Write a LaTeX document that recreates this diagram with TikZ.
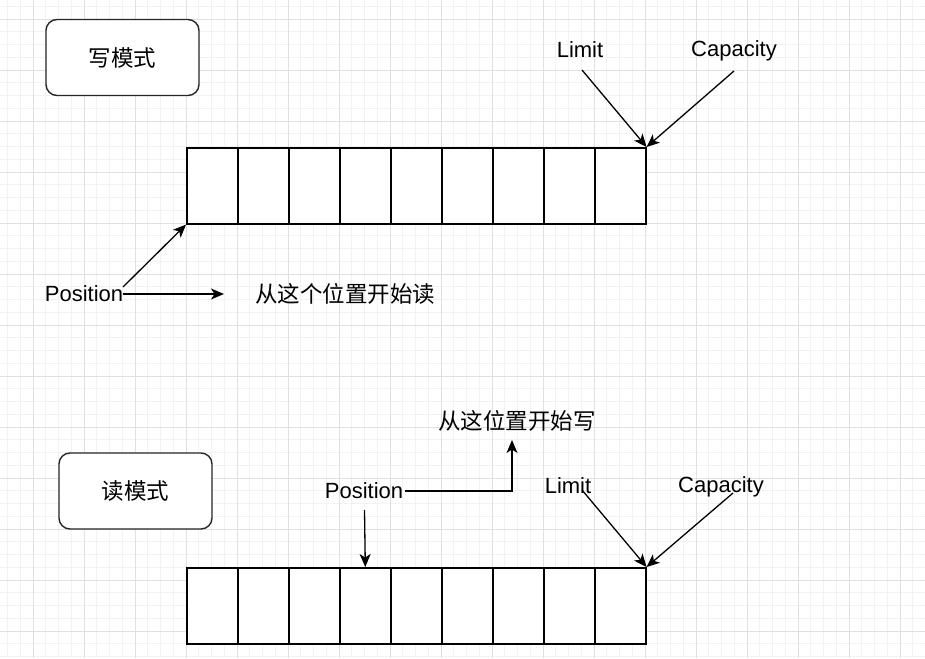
\documentclass[tikz,border=0pt]{standalone}
\usepackage{fontspec}
\setmainfont{Liberation Sans}
\newfontfamily\cjk{Noto Sans CJK SC}
\usetikzlibrary{arrows.meta}
\tikzset{
  minorgrid/.style={draw=black!5, line width=0.8pt},
  majorgrid/.style={draw=black!12, line width=0.8pt},
  cell/.style={draw=black, fill=white, line width=1.6pt, minimum width=51pt, minimum height=76pt, inner sep=0pt, anchor=north west},
  modebox/.style={draw=black!85, fill=white, line width=1.4pt, rounded corners=11pt, minimum width=153pt, minimum height=76pt, inner sep=0pt, font=\cjk\fontsize{22.5}{26}\selectfont},
  lbl/.style={inner sep=0pt, font=\fontsize{22}{26}\selectfont},
  cjklbl/.style={inner sep=0pt, font=\cjk\fontsize{22.5}{26}\selectfont},
  arr/.style={draw=black, line width=1.3pt, -{Stealth[length=13pt,width=11pt,inset=3.5pt]}}
}
\begin{document}
\begin{tikzpicture}[x=1pt,y=-1pt]
\useasboundingbox (0,0) rectangle (925,658);
\fill[white] (0,0) rectangle (925,658);
% grid
\foreach \i in {0,...,72} \draw[minorgrid] ({7.5+12.75*\i},0) -- ({7.5+12.75*\i},658);
\foreach \i in {0,...,51} \draw[minorgrid] (0,{6.25+12.75*\i}) -- (925,{6.25+12.75*\i});
\foreach \i in {0,...,17} \draw[majorgrid] ({33+51*\i},0) -- ({33+51*\i},658);
\foreach \i in {0,...,12} \draw[majorgrid] (0,{19+51*\i}) -- (925,{19+51*\i});

% mode boxes
\node[modebox] (wmode) at (122.5,57.5) {写模式};
\node[modebox] (rmode) at (135.5,491) {读模式};

% arrays
\foreach \i in {0,...,8} {
  \node[cell] (t\i) at ({186+51*\i},147) {};
  \node[cell] (b\i) at ({186+51*\i},567) {};
}

% top labels
\node[lbl] (lim1) at (580,50) {Limit};
\node[lbl] (cap1) at (734,51) {Capacity};
\node[lbl] (pos1) at (84,294) {Position};
\node[cjklbl] (rd) at (345,294) {从这个位置开始读};

% bottom labels
\node[cjklbl] (wr) at (517,421) {从这位置开始写};
\node[lbl] (pos2) at (364,491) {Position};
\node[lbl] (lim2) at (568,486) {Limit};
\node[lbl] (cap2) at (721,487) {Capacity};

% free-end coordinates
\coordinate (lim1s) at (582,70);
\coordinate (cap1s) at (734,71);
\coordinate (pos1a) at (123,287);
\coordinate (pos1b) at (123,294);
\coordinate (rdend) at (224,294);
\coordinate (pos2r) at (405,491);
\coordinate (wrend) at (512,440);
\coordinate (pos2d) at (364.5,510);
\coordinate (lim2s) at (582,490);
\coordinate (cap2s) at (733,493);

% top connectors
\draw[arr] (lim1s) -- (t8.north east);
\draw[arr] (cap1s) -- (t8.north east);
\draw[arr] (pos1a) -- (t0.south west);
\draw[arr] (pos1b) -- (rdend);

% bottom connectors
\draw[arr] (pos2r) -| (wrend);
\draw[arr] (pos2d) -- (b3.north);
\draw[arr] (lim2s) -- (b8.north east);
\draw[arr] (cap2s) -- (b8.north east);
\end{tikzpicture}
\end{document}
